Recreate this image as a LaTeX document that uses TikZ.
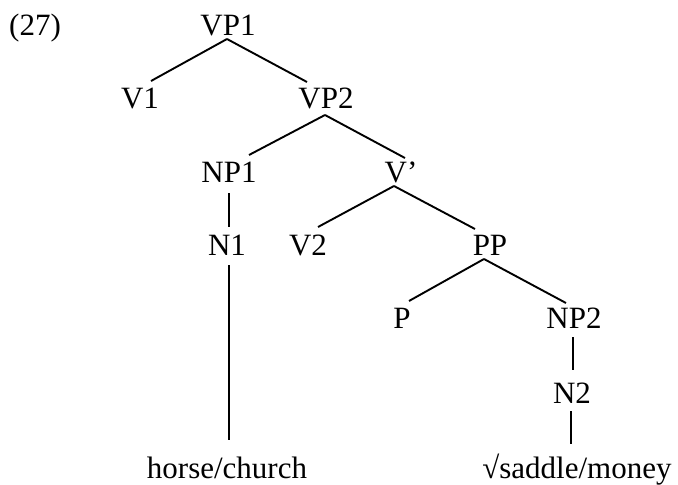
\documentclass[tikz,border=0pt]{standalone}
\usepackage{fontspec}
\setmainfont{Liberation Serif}
\begin{document}
\begin{tikzpicture}[x=1pt,y=-1pt,
  lbl/.style={anchor=base,inner sep=0pt,font=\fontsize{31}{36}\selectfont},
  edge/.style={line width=1.9pt}]
\useasboundingbox (0,0) rectangle (678,485);
\node[lbl] (ex) at (35,35) {(27)};
\node[lbl] (VP1) at (228,35) {VP1};
\node[lbl] (V1) at (140,108) {V1};
\node[lbl] (VP2) at (326,108) {VP2};
\node[lbl] (NP1) at (229,182) {NP1};
\node[lbl] (Vbar) at (401,182) {V’};
\node[lbl] (N1) at (227,255) {N1};
\node[lbl] (V2) at (308,255) {V2};
\node[lbl] (PP) at (490,255) {PP};
\node[lbl] (P) at (402,328) {P};
\node[lbl] (NP2) at (574,328) {NP2};
\node[lbl] (N2) at (572,403) {N2};
\node[lbl] (horse) at (227,478) {horse/church};
\node[lbl] (saddle) at (577,478) {√saddle/money};

\draw[edge] ([xshift=-1pt,yshift=-4pt]VP1.base) -- ([xshift=11pt,yshift=27pt]V1.base);
\draw[edge] ([xshift=-1pt,yshift=-4pt]VP1.base) -- ([xshift=-19pt,yshift=26pt]VP2.base);
\draw[edge] ([xshift=-1pt,yshift=-7pt]VP2.base) -- ([xshift=20pt,yshift=27pt]NP1.base);
\draw[edge] ([xshift=-1pt,yshift=-7pt]VP2.base) -- ([xshift=4pt,yshift=24pt]Vbar.base);
\draw[edge] ([yshift=-11pt]NP1.base) -- ([xshift=2pt,yshift=28pt]N1.base);
\draw[edge] ([xshift=-7pt,yshift=-4pt]Vbar.base) -- ([xshift=10pt,yshift=28pt]V2.base);
\draw[edge] ([xshift=-7pt,yshift=-4pt]Vbar.base) -- ([xshift=-15pt,yshift=26pt]PP.base);
\draw[edge] ([xshift=2pt,yshift=-10pt]N1.base) -- ([xshift=2pt,yshift=38pt]horse.base);
\draw[edge] ([xshift=-6pt,yshift=-4pt]PP.base) -- ([xshift=7pt,yshift=27pt]P.base);
\draw[edge] ([xshift=-6pt,yshift=-4pt]PP.base) -- ([xshift=-8pt,yshift=25pt]NP2.base);
\draw[edge] ([xshift=-1pt,yshift=-9pt]NP2.base) -- ([xshift=1pt,yshift=33pt]N2.base);
\draw[edge] ([xshift=-1pt,yshift=-8pt]N2.base) -- ([xshift=-6pt,yshift=34pt]saddle.base);
\end{tikzpicture}
\end{document}
